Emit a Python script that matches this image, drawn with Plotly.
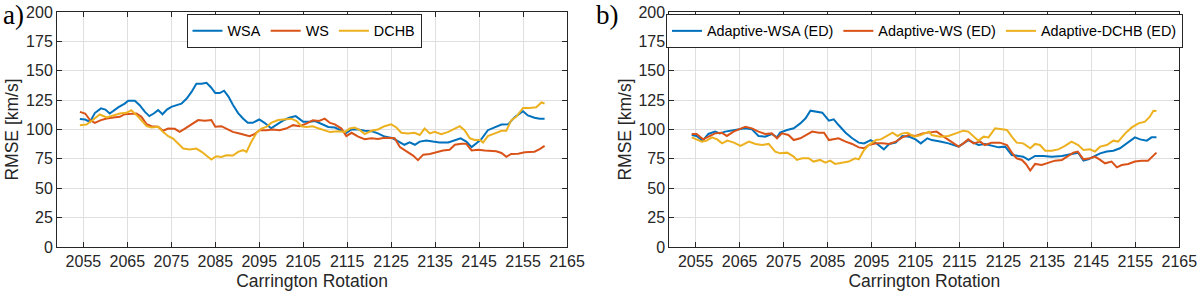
import plotly.graph_objects as go

# ---------------- data ----------------
# Panel a)
WSA_CR = [2054.2, 2055.4, 2056.5, 2057.6, 2059, 2060, 2061, 2062, 2063, 2064.4, 2065.2, 2066.7, 2067.8, 2069, 2070,
          2071, 2072, 2073, 2074, 2075, 2076, 2077.3, 2078.5, 2079.6, 2080.7, 2081.9, 2083, 2084, 2085, 2086, 2087,
          2088, 2089, 2090.2, 2091.3, 2092.4, 2093.5, 2095, 2096.2, 2097.7, 2098.8, 2100.3, 2101.8, 2103.3, 2105,
          2106.4, 2107.7, 2109.2, 2110.7, 2112.2, 2113.7, 2114.8, 2116, 2117.5, 2119, 2120.5, 2122, 2123.5, 2125.4,
          2127, 2128, 2129.2, 2130.4, 2131.5, 2133, 2134.5, 2136, 2138, 2139.5, 2140.8, 2142.1, 2143.3, 2144.4,
          2145.5, 2147, 2148.6, 2150.1, 2151.6, 2153.1, 2155, 2156.1, 2157.6, 2158.8, 2159.9]
WSA_RMSE = [109, 108.5, 106.5, 114, 118, 117, 113.6, 116.5, 119, 122, 124.4, 124.4, 120.7, 115, 111.4,
            113.6, 116.5, 113, 117, 119.3, 120.5, 122, 126.4, 132, 139, 139, 139.8, 136, 131, 131, 133,
            128, 121, 114, 109.4, 105.7, 105.7, 108.5, 105.7, 101, 103.7, 107.4, 110, 111.4, 106.5,
            106.5, 107.2, 104.4, 102.2, 101.7, 99.4, 97.2, 100, 100, 99, 98.6, 96.7, 94, 92.5,
            89, 87, 89, 87, 89.7, 90.6, 89.7, 89, 89, 91, 92.5, 89.7, 85, 88.3,
            91.7, 99.4, 101.7, 104.2, 104.4, 110.5, 115.5, 112, 110, 109.2, 109.2]

WS_CR = [2054.2, 2055.4, 2056.5, 2057.6, 2059, 2060.3, 2061.8, 2063.3, 2064.4, 2065.9, 2067.1, 2068.2, 2069.4,
         2070.5, 2072, 2073.1, 2074.3, 2075.8, 2076.9, 2078.1, 2079.6, 2081.1, 2082.6, 2084.1, 2085, 2086.4,
         2087.5, 2089, 2090.5, 2091.7, 2092.8, 2093.9, 2095.1, 2096.6, 2098.1, 2099.6, 2101.1, 2102.7, 2104.2,
         2105.7, 2107.2, 2108.6, 2109.9, 2111.1, 2112.2, 2113.7, 2114.8, 2116, 2117.5, 2119, 2120.5, 2122,
         2123.5, 2125.8, 2127, 2128.5, 2130, 2131.1, 2132.3, 2133.8, 2135.3, 2136.8, 2138.3, 2139.5, 2141,
         2142.1, 2143.3, 2144.8, 2146.3, 2147.8, 2148.9, 2150.1, 2151.2, 2152.3, 2153.9, 2155.4, 2157.6,
         2158.8, 2159.9]
WS_RMSE = [115, 113.6, 108, 105.7, 108, 109.4, 110.2, 110.8, 113, 113.6, 113.6, 110.8, 104.5,
           102.8, 102.3, 98.9, 100.8, 100.6, 98, 100.8, 104.5, 108, 107.4, 108, 102.3, 102.8,
           100.8, 98, 96.6, 95.2, 94.3, 96, 99.4, 99.4, 100, 99.4, 100.8, 103.7, 102.8,
           105, 107.8, 107.2, 109.2, 105.6, 104.4, 100.8, 94.4, 97.2, 93.9, 91.7, 92.5, 92,
           93, 92.5, 85, 81.4, 77.8, 73.9, 78.6, 79.2, 80.6, 82.2, 82.8, 87, 87.8,
           87.8, 82.2, 82.8, 82.2, 81.4, 81.4, 80, 76.7, 79.2, 79.4, 80.6, 81.1,
           83.3, 86.1]

DCHB_CR = [2054.2, 2055.7, 2057.2, 2058.7, 2060.3, 2061.8, 2063.3, 2064.8, 2065.9, 2067.1, 2068.2, 2069.4,
           2070.5, 2072, 2073.1, 2074.3, 2075.4, 2076.5, 2077.7, 2079.2, 2080.7, 2081.9, 2083, 2084.1, 2085.2,
           2086.4, 2087.5, 2089, 2090.2, 2091.3, 2092.1, 2093.2, 2094.4, 2095.5, 2096.6, 2097.7, 2099.3,
           2100.8, 2102.3, 2103.5, 2104.6, 2105.7, 2107.2, 2108.6, 2109.2, 2111.1, 2113, 2114.5, 2115.6,
           2116.7, 2117.9, 2119, 2120.5, 2122, 2123.5, 2125, 2126.2, 2127.3, 2128.8, 2130.3, 2131.5, 2132.6,
           2133.8, 2134.9, 2136.4, 2138, 2139.5, 2140.6, 2141.7, 2142.9, 2144, 2145.2, 2145.9, 2147, 2148.6,
           2150.1, 2151.2, 2152.3, 2153.5, 2155, 2156.5, 2158, 2159.2, 2159.9]
DCHB_RMSE = [103.7, 104.2, 108.3, 112.8, 110.2, 112.2, 113.6, 114.2, 116.5, 112.2, 108, 102.8,
             101.7, 102.3, 98, 94.3, 92.3, 88, 83.8, 83, 83.8, 81, 77.3, 74.4, 77.3,
             76.7, 78.1, 77.8, 81, 82.4, 81, 89.5, 97.2, 100.8, 102.2, 105.6, 108,
             108.3, 109.2, 107.2, 102.8, 102.2, 102.8, 100.8, 100, 97.8, 98.6, 98, 100.8,
             101.7, 99.4, 96.1, 98.9, 100, 102.8, 104.4, 101.7, 97.2, 96.7, 97.2, 95.3, 100.8,
             96.7, 98, 96.1, 98, 100.8, 102.8, 99.4, 92.5, 91.1, 91.1, 88.9, 94.4, 96.7,
             98.9, 98.9, 107.8, 111, 118.3, 118.3, 118.9, 123, 122.2]

# Panel b)
AWSA_CR = [2054.1, 2055.2, 2056.6, 2057.9, 2059.4, 2060.5, 2061.7, 2063.2, 2064.7, 2066.2, 2067.8, 2069.3,
           2070.8, 2072.3, 2073.5, 2074.2, 2075.8, 2077.3, 2078.8, 2080, 2081.1, 2082.6, 2083.8, 2085.3,
           2086.4, 2087.5, 2089.1, 2090.6, 2092.1, 2093.3, 2094.8, 2096.3, 2097.8, 2099, 2100.5, 2102,
           2103.5, 2105, 2106.2, 2107.7, 2108.7, 2110.6, 2112.5, 2114.8, 2115.9, 2117, 2118.2, 2119.3,
           2120.8, 2122.3, 2123.9, 2125.4, 2126.9, 2128.4, 2129.5, 2130.7, 2132.2, 2134.1, 2136, 2138.3,
           2140.5, 2142, 2143.2, 2144.3, 2145.5, 2147, 2148.5, 2150, 2151.5, 2153, 2154.9, 2156.1,
           2157.6, 2158.7, 2159.8]
AWSA_RMSE = [95.3, 94.5, 90.5, 96.2, 98.2, 96.7, 98.2, 99, 100.1, 101, 100.1, 94.5,
             93.9, 96.2, 93.3, 97.3, 99.6, 101, 105.2, 109.5, 116, 115.2, 114.3, 107.5,
             108.6, 103.8, 97.3, 92.5, 88.8, 88.2, 91, 87.7, 83.1, 87.7, 88.8, 94.5,
             93.9, 91.6, 88.2, 92.5, 91, 89.7, 88.2, 85.4, 88.2, 91, 88.8, 86.8,
             87.7, 86, 84.8, 85.4, 78.3, 77.5, 76.9, 74.1, 77.5, 77.5, 76.9, 77.5,
             79.2, 80.3, 73.5, 74.6, 76.9, 79.7, 81.2, 82, 84, 88.2, 93.3, 91.6,
             90.5, 93.3, 93.3]

AWS_CR = [2054.1, 2055.2, 2056.7, 2057.9, 2059.4, 2060.9, 2062.1, 2063.6, 2065.2, 2066.3, 2067.8, 2069.3,
          2070.8, 2072.3, 2073.5, 2074.6, 2076.1, 2077.3, 2078.8, 2080.3, 2081.5, 2083, 2084.2, 2085.3,
          2086.4, 2087.5, 2089.1, 2090.6, 2092.1, 2093.3, 2094.4, 2096, 2097.5, 2099, 2100.5, 2102,
          2103.5, 2105, 2106.6, 2108.1, 2109.8, 2111.4, 2113.3, 2114.8, 2115.9, 2117, 2118.2, 2119.7,
          2120.8, 2122.3, 2124.2, 2125.8, 2126.9, 2128, 2129.2, 2130.1, 2131.1, 2132.2, 2133.7, 2135.2,
          2136.7, 2138.3, 2139.8, 2140.9, 2141.9, 2143.2, 2144.7, 2145.8, 2147, 2148.1, 2149.6, 2150.8,
          2151.9, 2153.4, 2154.9, 2156.4, 2157.9, 2159.1, 2159.8]
AWS_RMSE = [96.2, 96.2, 91.6, 93.9, 96.7, 97.3, 94.5, 98.2, 101, 102.4, 101, 98.2,
            96.2, 96.7, 92.5, 96.7, 95.3, 91, 92.5, 95.3, 98.2, 97.3, 97.3, 91,
            91.6, 92.5, 89.7, 87.7, 84.8, 84, 86.8, 88.2, 88.2, 87.7, 89.7, 93.3,
            95.3, 94.5, 96.7, 97.3, 98.2, 93.9, 88.8, 85.4, 88.2, 91.6, 88.2, 89.7,
            86.8, 88.8, 88.8, 86.8, 80.3, 75.5, 74.1, 70.7, 65.1, 70.7, 69.8, 71.8,
            73.5, 74.1, 77.5, 80.3, 81.2, 74.6, 75.5, 76.9, 74.1, 71.2, 72.7, 67.8,
            69.8, 70.7, 72.7, 73.5, 73.5, 78.3, 80.3]

ADCHB_CR = [2054.1, 2055.2, 2056.4, 2057.5, 2058.7, 2059.9, 2061, 2062.2, 2063.7, 2065.2, 2067.1, 2068.6,
            2070.1, 2071.6, 2073.1, 2074.2, 2075.8, 2077.3, 2078, 2079.2, 2080.7, 2081.8, 2083.3, 2084.5,
            2085.6, 2086.7, 2088.3, 2089.8, 2091.3, 2092.1, 2093.3, 2094.4, 2096, 2097.1, 2098.2, 2099.8,
            2100.9, 2102, 2103.2, 2104.7, 2106.2, 2108.1, 2108.7, 2110.6, 2112.5, 2114.4, 2115.9, 2117,
            2118.2, 2119.3, 2120.5, 2121.6, 2123.1, 2124.6, 2125.8, 2126.9, 2128, 2129.5, 2131.1, 2132.2,
            2133.3, 2134.5, 2136, 2137.5, 2139, 2140.5, 2142, 2143.2, 2144.7, 2145.8, 2147, 2148.5, 2150,
            2151.1, 2152.7, 2154.2, 2155.7, 2157.2, 2158.3, 2159.1, 2159.8]
ADCHB_RMSE = [93.3, 91.6, 89.7, 90.5, 93.3, 91.6, 88.2, 90.5, 88.8, 86, 89.7, 87.7,
              86.8, 87.7, 81.2, 79.7, 80.3, 76.9, 74.1, 75.5, 75.5, 72.7, 74.1, 71.8,
              73.5, 70.7, 71.8, 72.7, 75.5, 74.6, 82.6, 86.8, 91, 91.6, 93.9, 97.3,
              94.5, 96.7, 97.3, 93.9, 95.3, 98.2, 95.3, 93.9, 94.5, 96.7, 99, 98.2,
              93.9, 90.5, 93.9, 93.3, 101, 100.1, 99.6, 93.9, 88.8, 88.2, 84, 87.7,
              86.8, 82, 82, 83.1, 86, 89.7, 86.8, 82.6, 83.1, 81.2, 85.4, 86.8, 90.5,
              89.7, 96.7, 101.8, 105.2, 106.7, 110.9, 116, 115.7]

X_TICKS = [2055, 2065, 2075, 2085, 2095, 2105, 2115, 2125, 2135, 2145, 2155, 2165]
Y_TICKS = [0, 25, 50, 75, 100, 125, 150, 175, 200]

COLORS = ["#0072BD", "#D95319", "#EDB120"]
FONT = "Liberation Sans"
AXC = "#262626"

# ---------------- layout geometry (pixels) ----------------
W, H = 1200, 295
ML, MR, MT, MB = 57, 20, 12, 48
PW, PH = W - ML - MR, H - MT - MB


def px(x):
    return (x - ML) / PW


def py(y):
    return (H - MB - y) / PH


def clamp(v):
    return max(0.0, min(1.0, v))


fig = go.Figure()

left = [("WSA", WSA_CR, WSA_RMSE), ("WS", WS_CR, WS_RMSE), ("DCHB", DCHB_CR, DCHB_RMSE)]
right = [("Adaptive-WSA (ED)", AWSA_CR, AWSA_RMSE), ("Adaptive-WS (ED)", AWS_CR, AWS_RMSE),
         ("Adaptive-DCHB (ED)", ADCHB_CR, ADCHB_RMSE)]

for i, (name, xs, ys) in enumerate(left):
    fig.add_trace(go.Scatter(x=xs, y=ys, mode="lines", name=name, xaxis="x", yaxis="y",
                             line=dict(color=COLORS[i], width=2), legend="legend"))
for i, (name, xs, ys) in enumerate(right):
    fig.add_trace(go.Scatter(x=xs, y=ys, mode="lines", name=name, xaxis="x2", yaxis="y2",
                             line=dict(color=COLORS[i], width=2), legend="legend2"))

common_x = dict(range=[2049, 2165], tickvals=X_TICKS, ticks="inside", ticklen=5, tickcolor=AXC,
                showline=True, linecolor=AXC, linewidth=1, mirror="ticks", showgrid=True,
                gridcolor="#DFDFDF", gridwidth=1, zeroline=False, automargin=False,
                tickfont=dict(family=FONT, size=16, color=AXC),
                title=dict(text="Carrington Rotation", font=dict(family=FONT, size=17.5, color=AXC), standoff=5))
common_y = dict(range=[0, 200], tickvals=Y_TICKS, ticks="inside", ticklen=5, tickcolor=AXC,
                showline=True, linecolor=AXC, linewidth=1, mirror="ticks", showgrid=True,
                gridcolor="#DFDFDF", gridwidth=1, zeroline=False, domain=[0, 1], automargin=False,
                tickfont=dict(family=FONT, size=16, color=AXC),
                title=dict(text="RMSE [km/s]", font=dict(family=FONT, size=17.5, color=AXC), standoff=2))

legend_common = dict(orientation="h", bgcolor="white", bordercolor="#262626", borderwidth=1,
                     font=dict(family=FONT, size=14.4, color="black"), yanchor="top", xanchor="center",
                     tracegroupgap=0, itemwidth=30)

fig.update_layout(
    width=W, height=H,
    margin=dict(l=ML, r=MR, t=MT, b=MB, autoexpand=False),
    paper_bgcolor="white", plot_bgcolor="white",
    xaxis=dict(domain=[clamp(px(57)), clamp(px(567))], anchor="y", **common_x),
    yaxis=dict(anchor="x", **common_y),
    xaxis2=dict(domain=[clamp(px(669.3)), clamp(px(1179.3))], anchor="y2", **common_x),
    yaxis2=dict(anchor="x2", **common_y),
    legend=dict(x=px(304), y=py(14), **legend_common),
    legend2=dict(x=px(924.5), y=py(14), **legend_common),
    annotations=[
        dict(text="a)", x=px(1), y=py(15), xref="paper", yref="paper", xanchor="left", yanchor="middle",
             showarrow=False, font=dict(family="Liberation Serif", size=27, color="black")),
        dict(text="b)", x=px(594), y=py(15), xref="paper", yref="paper", xanchor="left", yanchor="middle",
             showarrow=False, font=dict(family="Liberation Serif", size=27, color="black")),
    ],
    showlegend=True,
)

# remove the browser's default body margin so the figure sits at the page origin
fig.write_html("out.html", config={"displayModeBar": False},
               post_script="document.body.style.margin='0px';")
